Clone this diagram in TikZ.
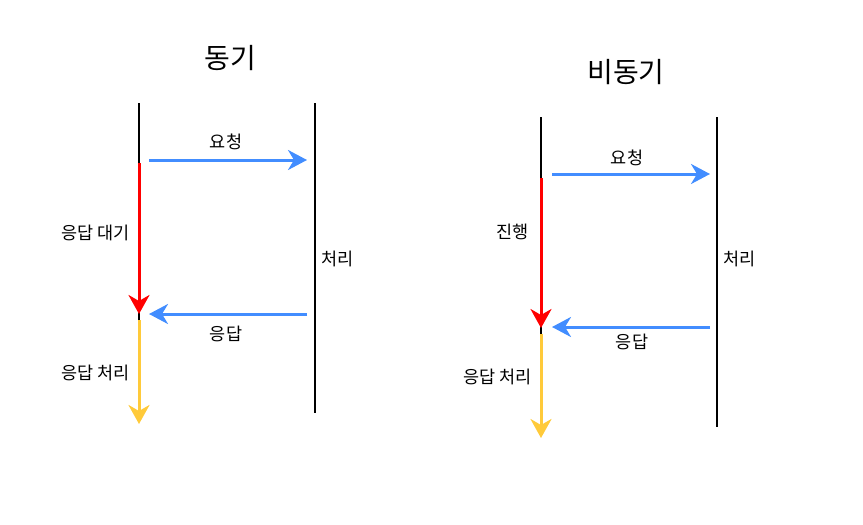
\documentclass[tikz,border=0pt]{standalone}
\usepackage{fontspec}
\setmainfont{Noto Sans CJK KR}
\usepackage{xcolor}
\usetikzlibrary{arrows.meta}
\definecolor{msgblue}{RGB}{66,141,255}
\definecolor{waitred}{RGB}{255,0,0}
\definecolor{doneyellow}{RGB}{255,202,58}

\begin{document}
\begin{tikzpicture}[x=1pt, y=-1pt,
  title/.style={font=\fontsize{28}{32}\selectfont},
  lbl/.style={font=\fontsize{17.5}{20}\selectfont},
  life/.style={line width=2.4pt, black},
  msg/.style={line width=3pt, msgblue, -{Stealth[length=19pt, width=20pt, inset=6pt]}},
  waitarr/.style={line width=3pt, waitred, -{Stealth[length=19pt, width=21pt, inset=6pt]}},
  donearr/.style={line width=3pt, doneyellow, -{Stealth[length=19pt, width=21pt, inset=6pt]}}]
\useasboundingbox (0,0) rectangle (863,525);

% Sync
\node[title] (synctitle) at (230,58) {동기};
\coordinate (cltop) at (139,103);
\coordinate (clwait) at (139,163);
\coordinate (clresp) at (139,314);
\coordinate (cldone) at (139,320);
\coordinate (clend) at (139,424);
\coordinate (svtop) at (315,103);
\coordinate (svend) at (315,413);
\coordinate (reqa) at (149,160);
\coordinate (reqb) at (307,160);
\coordinate (respa) at (307,314);
\coordinate (respb) at (149,314);
\draw[life] (cltop) -- (cldone);
\draw[life] (svtop) -- (svend);
\draw[waitarr] (clwait) -- (clresp);
\draw[donearr] (cldone) -- (clend);
\draw[msg] (reqa) -- (reqb);
\draw[msg] (respa) -- (respb);
\node[lbl] (syncreq) at (226,142) {요청};
\node[lbl] (syncresp) at (226,334) {응답};
\node[lbl, anchor=east] (syncwait) at (133,233) {응답 대기};
\node[lbl, anchor=west] (syncproc) at (318,259) {처리};
\node[lbl, anchor=east] (synchandle) at (133,373) {응답 처리};

% Async
\node[title] (asynctitle) at (626,72) {비동기};
\coordinate (actop) at (541,117);
\coordinate (acrun) at (541,178);
\coordinate (acresp) at (541,328);
\coordinate (acdone) at (541,334);
\coordinate (acend) at (541,438);
\coordinate (asvtop) at (717,117);
\coordinate (asvend) at (717,427);
\coordinate (areqa) at (552,174);
\coordinate (areqb) at (710,174);
\coordinate (arespa) at (710,327);
\coordinate (arespb) at (552,327);
\draw[life] (actop) -- (acdone);
\draw[life] (asvtop) -- (asvend);
\draw[waitarr] (acrun) -- (acresp);
\draw[donearr] (acdone) -- (acend);
\draw[msg] (areqa) -- (areqb);
\draw[msg] (arespa) -- (arespb);
\node[lbl] (asyncreq) at (627,158) {요청};
\node[lbl] (asyncresp) at (632,342) {응답};
\node[lbl, anchor=east] (asyncrun) at (532,232) {진행};
\node[lbl, anchor=west] (asyncproc) at (720,259) {처리};
\node[lbl, anchor=east] (asynchandle) at (535,377) {응답 처리};
\end{tikzpicture}
\end{document}
